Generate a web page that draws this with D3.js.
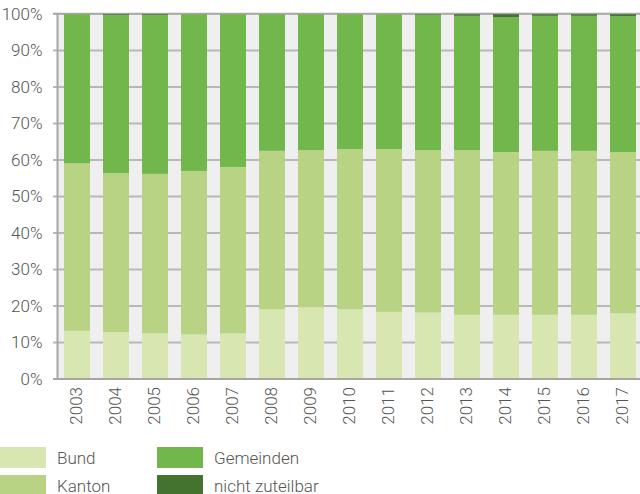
<!DOCTYPE html>
<html>
<head>
<meta charset="utf-8">
<script src="https://cdn.jsdelivr.net/npm/d3@7"></script>
<style>
  body { margin: 0; background: #fff; }
  svg { display: block; font-family: Roboto, sans-serif; font-weight: 300; }
</style>
</head>
<body>
<svg id="chart" width="640" height="494"></svg>
<script>
const years = ["2003","2004","2005","2006","2007","2008","2009","2010","2011","2012","2013","2014","2015","2016","2017"];
const bund = [13.2, 12.8, 12.5, 12.2, 12.5, 19.1, 19.6, 19.1, 18.4, 18.2, 17.6, 17.6, 17.6, 17.6, 18.0];
const kanton = [45.9, 43.6, 43.7, 44.8, 45.6, 43.4, 43.1, 43.9, 44.6, 44.5, 45.1, 44.6, 44.9, 44.9, 44.2];
const gemeinden = [40.9, 43.3, 43.5, 43.0, 41.9, 37.5, 37.3, 37.0, 37.0, 37.1, 36.8, 36.9, 37.0, 37.0, 37.2];
const nichtZuteilbar = [0, 0.3, 0.3, 0, 0, 0, 0, 0, 0, 0.2, 0.5, 0.9, 0.5, 0.5, 0.6];

const seriesNames = ["Bund", "Kanton", "Gemeinden", "nicht zuteilbar"];
const colors = ["#d8e6b1", "#b8d383", "#72b74c", "#44722f"];
const yTicks = [0, 10, 20, 30, 40, 50, 60, 70, 80, 90, 100];

const rows = years.map((yr, i) => ({
    year: yr,
    "Bund": bund[i],
    "Kanton": kanton[i],
    "Gemeinden": gemeinden[i],
    "nicht zuteilbar": nichtZuteilbar[i]
}));

const svg = d3.select("#chart");
const plotLeft = 57.5, plotRight = 642.5, plotTop = 14, plotBottom = 379;

const x = d3.scaleBand().domain(years).range([plotLeft, plotRight])
    .paddingInner(1 / 3).paddingOuter(1 / 6);
const y = d3.scaleLinear().domain([0, 100]).range([plotBottom, plotTop]);
const color = d3.scaleOrdinal().domain(seriesNames).range(colors);

// plot background
svg.append("rect")
    .attr("x", plotLeft).attr("y", plotTop)
    .attr("width", 640 - plotLeft).attr("height", plotBottom - plotTop)
    .attr("fill", "#efefef");

// gridlines
svg.append("g").selectAll("line")
    .data(yTicks.filter(d => d > 0))
    .join("line")
    .attr("x1", 53).attr("x2", 640)
    .attr("y1", d => y(d)).attr("y2", d => y(d))
    .attr("stroke", "#b8b8b8").attr("stroke-width", 2);

// stacked bars
const stacked = d3.stack().keys(seriesNames)(rows);
svg.append("g").selectAll("g")
    .data(stacked)
    .join("g")
    .attr("fill", d => color(d.key))
    .selectAll("rect")
    .data(d => d)
    .join("rect")
    .attr("x", d => x(d.data.year))
    .attr("width", x.bandwidth())
    .attr("y", d => y(d[1]))
    .attr("height", d => y(d[0]) - y(d[1]));

// top gridline over bars
svg.append("line")
    .attr("x1", 53).attr("x2", 640)
    .attr("y1", y(100) - 0.5).attr("y2", y(100) - 0.5)
    .attr("stroke", "#a8a8a8").attr("stroke-width", 1.5);

// axis lines
svg.append("line")
    .attr("x1", plotLeft).attr("x2", plotLeft)
    .attr("y1", plotTop - 1).attr("y2", plotBottom + 1)
    .attr("stroke", "#a6a6a6").attr("stroke-width", 2);
svg.append("line")
    .attr("x1", 53).attr("x2", 640)
    .attr("y1", plotBottom).attr("y2", plotBottom)
    .attr("stroke", "#a6a6a6").attr("stroke-width", 2);

// y axis labels
const yAxis = svg.append("g")
    .attr("transform", `translate(${plotLeft},0)`)
    .call(d3.axisLeft(y).tickValues(yTicks).tickSize(0).tickPadding(15)
        .tickFormat(d => d + "%"));
yAxis.select(".domain").remove();
yAxis.selectAll("text")
    .attr("fill", "#555")
    .style("font-size", "17px")
    .style("font-family", "Roboto, sans-serif")
    .style("font-weight", 300);

// x axis labels
const xAxis = svg.append("g")
    .attr("transform", `translate(0,${plotBottom})`)
    .call(d3.axisBottom(x).tickSize(0));
xAxis.select(".domain").remove();
xAxis.selectAll("text")
    .attr("transform", "rotate(-90)")
    .attr("x", -8)
    .attr("y", 0)
    .attr("dy", "0.32em")
    .attr("text-anchor", "end")
    .attr("fill", "#555")
    .style("font-size", "17px")
    .style("font-family", "Roboto, sans-serif")
    .style("font-weight", 300);

// legend
const legendPos = [[0, 447], [0, 475], [157, 447], [157, 475]];
const legend = svg.append("g").selectAll("g")
    .data(seriesNames)
    .join("g")
    .attr("transform", (d, i) => `translate(${legendPos[i][0]},${legendPos[i][1]})`);
legend.append("rect")
    .attr("width", 46).attr("height", 21)
    .attr("fill", d => color(d));
legend.append("text")
    .attr("x", 57).attr("y", 17)
    .attr("fill", "#555")
    .style("font-size", "17px")
    .text(d => d);
</script>
</body>
</html>
